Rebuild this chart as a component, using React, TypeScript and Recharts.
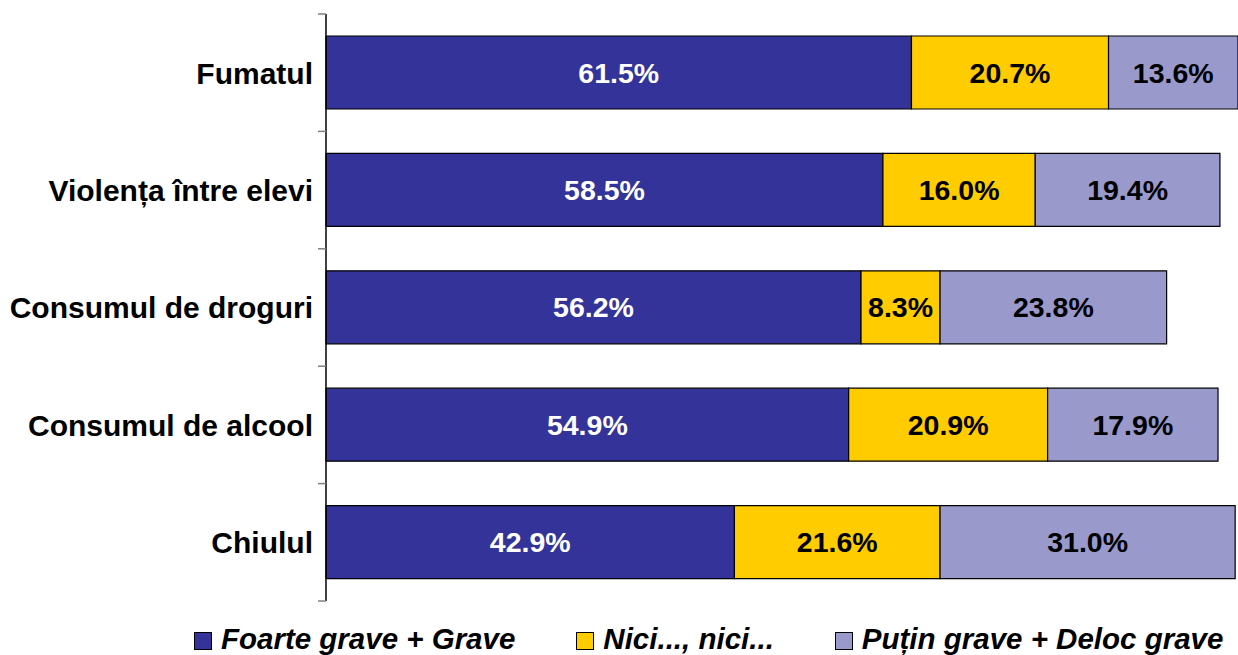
import { Bar, BarChart, LabelList, Legend, XAxis, YAxis } from 'recharts';

const categories = ['Fumatul', 'Violența între elevi', 'Consumul de droguri', 'Consumul de alcool', 'Chiulul'];
const foarteGrave = [61.5, 58.5, 56.2, 54.9, 42.9];
const niciNici = [20.7, 16.0, 8.3, 20.9, 21.6];
const putinGrave = [13.6, 19.4, 23.8, 17.9, 31.0];

const seriesNames = ['Foarte grave + Grave', 'Nici..., nici...', 'Puțin grave + Deloc grave'];

const data = categories.map((name, i) => ({
  name,
  foarte: foarteGrave[i],
  nici: niciNici[i],
  putin: putinGrave[i],
}));

const FONT = '"Liberation Sans", Arial, sans-serif';
const YAXIS_W = 326;
const TOP = 14;
const PLOT_H = 587;
const BAND = PLOT_H / categories.length;

const series = [
  { key: 'foarte', name: seriesNames[0], color: '#333399', text: '#fff' },
  { key: 'nici', name: seriesNames[1], color: '#FFCC00', text: '#000' },
  { key: 'putin', name: seriesNames[2], color: '#9999CC', text: '#000' },
];

// category labels + tick marks sitting between the bands (excel style)
function CategoryTick(props: any) {
  const { y, payload, index } = props;
  return (
    <g>
      <text
        x={YAXIS_W - 13}
        y={y}
        dy="0.36em"
        textAnchor="end"
        fontFamily={FONT}
        fontSize={30}
        fontWeight="bold"
        fill="#000"
      >
        {payload.value}
      </text>
      <line x1={YAXIS_W - 8} x2={YAXIS_W} y1={y - BAND / 2} y2={y - BAND / 2} stroke="#808080" strokeWidth={1.5} />
      {index === categories.length - 1 && (
        <line x1={YAXIS_W - 8} x2={YAXIS_W} y1={y + BAND / 2} y2={y + BAND / 2} stroke="#808080" strokeWidth={1.5} />
      )}
    </g>
  );
}

function LegendBox() {
  return (
    <div
      style={{
        display: 'flex',
        alignItems: 'center',
        paddingLeft: 194,
        paddingTop: 23,
        fontFamily: FONT,
        fontSize: 29.5,
        fontWeight: 'bold',
        fontStyle: 'italic',
        lineHeight: 1,
        color: '#000',
        whiteSpace: 'nowrap',
      }}
    >
      {series.map((s) => (
        <div key={s.key} style={{ display: 'flex', alignItems: 'center', marginRight: 61 }}>
          <span
            style={{
              display: 'inline-block',
              width: 16,
              height: 16,
              background: s.color,
              border: '1px solid #000',
              marginRight: 9,
              marginTop: 4,
            }}
          />
          <span>{s.name}</span>
        </div>
      ))}
    </div>
  );
}

export default function App() {
  return (
    <div style={{ position: 'fixed', left: 0, top: 0, width: 1238, height: 655, overflow: 'hidden', background: '#fff' }}>
      <style>{'body{margin:0;overflow:hidden}'}</style>
      <BarChart
        width={1300}
        height={655}
        data={data}
        layout="vertical"
        margin={{ top: TOP, right: 22, left: 0, bottom: 0 }}
      >
        <XAxis type="number" domain={[0, 100]} hide />
        <YAxis
          type="category"
          dataKey="name"
          width={YAXIS_W}
          axisLine={{ stroke: '#000', strokeWidth: 1.5 }}
          tickLine={false}
          tick={<CategoryTick />}
          interval={0}
        />
        <Legend
          verticalAlign="bottom"
          height={54}
          content={() => <LegendBox />}
          wrapperStyle={{ left: 0, width: 1300 }}
        />
        {series.map((s) => (
          <Bar
            key={s.key}
            dataKey={s.key}
            name={s.name}
            stackId="a"
            fill={s.color}
            stroke="#000"
            strokeWidth={1.2}
            barSize={73}
            isAnimationActive={false}
          >
            <LabelList
              dataKey={s.key}
              position="center"
              formatter={(v: any) => `${Number(v).toFixed(1)}%`}
              fill={s.text}
              fontFamily={FONT}
              fontSize={28.5}
              fontWeight="bold"
            />
          </Bar>
        ))}
      </BarChart>
    </div>
  );
}
